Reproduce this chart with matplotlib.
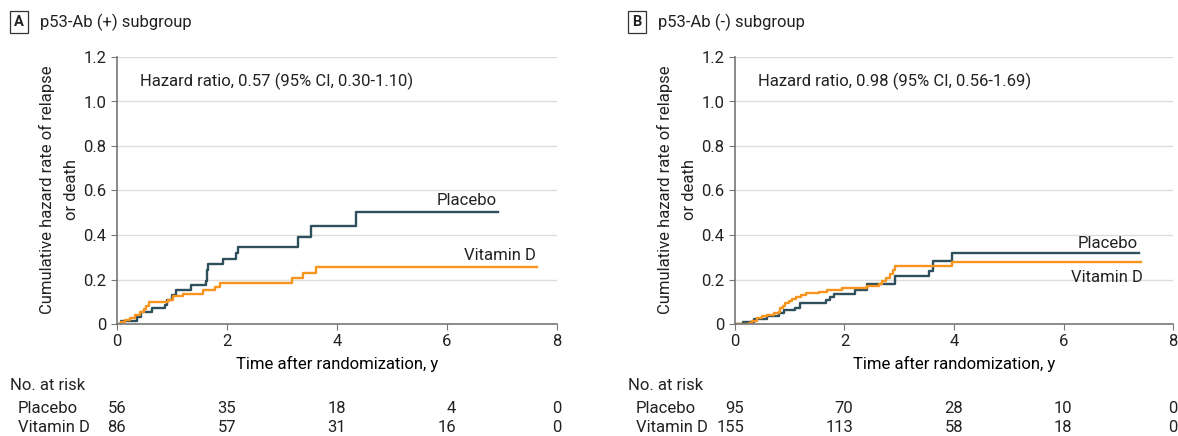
import matplotlib
matplotlib.use("Agg")
import matplotlib.pyplot as plt
import matplotlib.transforms as mtransforms

plt.rcParams['font.family'] = ['Liberation Sans Narrow', 'Roboto', 'DejaVu Sans']
plt.rcParams['font.size'] = 12
plt.rcParams['text.color'] = '#222222'

# panel A: p53-Ab (+)
a_placebo_t = [0, 0.08, 0.36, 0.44, 0.64, 0.88, 0.91, 1.0, 1.08, 1.34, 1.61, 1.64, 1.65,
               1.93, 2.16, 2.2, 3.29, 3.53, 4.35, 6.93]
a_placebo_y = [0, 0.012, 0.033, 0.052, 0.07, 0.086, 0.109, 0.132, 0.152, 0.174, 0.195, 0.242,
               0.268, 0.29, 0.318, 0.345, 0.39, 0.44, 0.503, 0.503]
a_vitd_t = [0, 0.08, 0.14, 0.23, 0.32, 0.41, 0.49, 0.53, 0.58, 0.93, 1.01, 1.2, 1.56, 1.79,
            1.87, 3.19, 3.39, 3.62, 7.64]
a_vitd_y = [0, 0.009, 0.018, 0.029, 0.039, 0.052, 0.067, 0.079, 0.097, 0.109, 0.124, 0.136,
            0.152, 0.167, 0.183, 0.206, 0.23, 0.256, 0.256]

# panel B: p53-Ab (-)
b_placebo_t = [0, 0.14, 0.35, 0.59, 0.8, 0.89, 1.1, 1.18, 1.67, 1.73, 1.8, 2.2, 2.41, 2.93,
               3.55, 3.62, 3.97, 7.37]
b_placebo_y = [0, 0.009, 0.021, 0.037, 0.049, 0.061, 0.072, 0.095, 0.107, 0.122, 0.137, 0.153,
               0.182, 0.216, 0.239, 0.284, 0.32, 0.32]
b_vitd_t = [0, 0.25, 0.31, 0.40, 0.49, 0.59, 0.71, 0.8, 0.83, 0.88, 0.92, 0.98, 1.04, 1.12,
            1.21, 1.3, 1.53, 1.68, 1.96, 2.41, 2.63, 2.69, 2.75, 2.83, 2.89, 2.93, 3.97, 7.42]
b_vitd_y = [0, 0.003, 0.015, 0.026, 0.034, 0.041, 0.049, 0.056, 0.072, 0.082, 0.095, 0.104,
            0.113, 0.122, 0.131, 0.139, 0.144, 0.153, 0.16, 0.171, 0.18, 0.192, 0.208, 0.223,
            0.244, 0.262, 0.277, 0.277]

risk_times = [0, 2, 4, 6, 8]
a_risk_placebo = [56, 35, 18, 4, 0]
a_risk_vitd = [86, 57, 31, 16, 0]
b_risk_placebo = [95, 70, 28, 10, 0]
b_risk_vitd = [155, 113, 58, 18, 0]

hazard_text = ['Hazard ratio, 0.57 (95% CI, 0.30-1.10)',
               'Hazard ratio, 0.98 (95% CI, 0.56-1.69)']
titles = [('A', 'p53-Ab (+) subgroup'), ('B', 'p53-Ab (-) subgroup')]
ylabel_lines = ['Cumulative hazard rate of relapse', 'or death']

DARK = '#2e4f5c'
ORANGE = '#f7941d'
W, H = 1178, 436

fig = plt.figure(figsize=(W / 100, H / 100), dpi=100)


def fx(px):
    return px / W


def fy(py):
    return 1 - py / H


def panel(left_px, right_px, placebo, vitd, risk_p, risk_v, hr, title, lbl_pos):
    ax = fig.add_axes([fx(left_px), fy(324), fx(right_px - left_px), (324 - 57) / H])
    ax.step(placebo[0], placebo[1], where='post', color=DARK, lw=1.7)
    ax.step(vitd[0], vitd[1], where='post', color=ORANGE, lw=1.7)
    ax.set_xlim(0, 8)
    ax.set_ylim(0, 1.2)
    ax.set_xticks(risk_times)
    ax.set_yticks([0, 0.2, 0.4, 0.6, 0.8, 1.0, 1.2])
    ax.set_yticklabels(['0', '0.2', '0.4', '0.6', '0.8', '1.0', '1.2'])
    for y in [0.2, 0.4, 0.6, 0.8, 1.0, 1.2]:
        ax.axhline(y, color='#dddddd', lw=1, zorder=0)
    for s in ['top', 'right']:
        ax.spines[s].set_visible(False)
    for s in ['left', 'bottom']:
        ax.spines[s].set_color('#777777')
        ax.spines[s].set_linewidth(1.2)
    ax.tick_params(colors='#777777', labelcolor='#222222', length=4, labelsize=12)
    ax.set_xlabel('Time after randomization, y', fontsize=12, labelpad=5)

    # two-line y label, each line centred
    hx = left_px - 107
    fig.text(fx(hx + 37), fy(190), ylabel_lines[0], rotation=90, ha='center', va='center',
             fontsize=12)
    fig.text(fx(hx + 62), fy(190), ylabel_lines[1], rotation=90, ha='center', va='center',
             fontsize=12)

    ax.text(0.42, 1.09, hr, fontsize=12, va='center')
    ax.text(lbl_pos[0][0], lbl_pos[0][1], 'Placebo', ha='right', va='bottom', fontsize=12)
    ax.text(lbl_pos[1][0], lbl_pos[1][1], 'Vitamin D', ha='right', va=lbl_pos[1][2], fontsize=12)

    # header
    fig.text(fx(hx + 9), fy(22), title[0], ha='center', va='center', fontsize=10.5,
             fontweight='bold',
             bbox=dict(boxstyle='square,pad=0.3', fc='white', ec='#333333', lw=0.9))
    fig.text(fx(hx + 30), fy(22), title[1], ha='left', va='center', fontsize=12)

    # risk table
    fig.text(fx(hx), fy(385), 'No. at risk', ha='left', va='center', fontsize=12)
    fig.text(fx(hx + 8), fy(408), 'Placebo', ha='left', va='center', fontsize=12)
    fig.text(fx(hx + 8), fy(427), 'Vitamin D', ha='left', va='center', fontsize=12)
    blend = mtransforms.blended_transform_factory(ax.transData, fig.transFigure)
    shift = mtransforms.ScaledTranslation(9 / 100, 0, fig.dpi_scale_trans)
    for t, p, v in zip(risk_times, risk_p, risk_v):
        if t == 8:
            tr, ha = blend, 'center'
        else:
            tr, ha = blend + shift, 'right'
        fig.text(t, fy(408), str(p), ha=ha, va='center', fontsize=12, transform=tr)
        fig.text(t, fy(427), str(v), ha=ha, va='center', fontsize=12, transform=tr)
    return ax


panel(117, 557, (a_placebo_t, a_placebo_y), (a_vitd_t, a_vitd_y),
      a_risk_placebo, a_risk_vitd, hazard_text[0], titles[0],
      [(6.9, 0.52), (7.62, 0.275, 'bottom')])
panel(735, 1173, (b_placebo_t, b_placebo_y), (b_vitd_t, b_vitd_y),
      b_risk_placebo, b_risk_vitd, hazard_text[1], titles[1],
      [(7.35, 0.33), (7.45, 0.21, 'center')])

fig.savefig('out.png', dpi=100)
